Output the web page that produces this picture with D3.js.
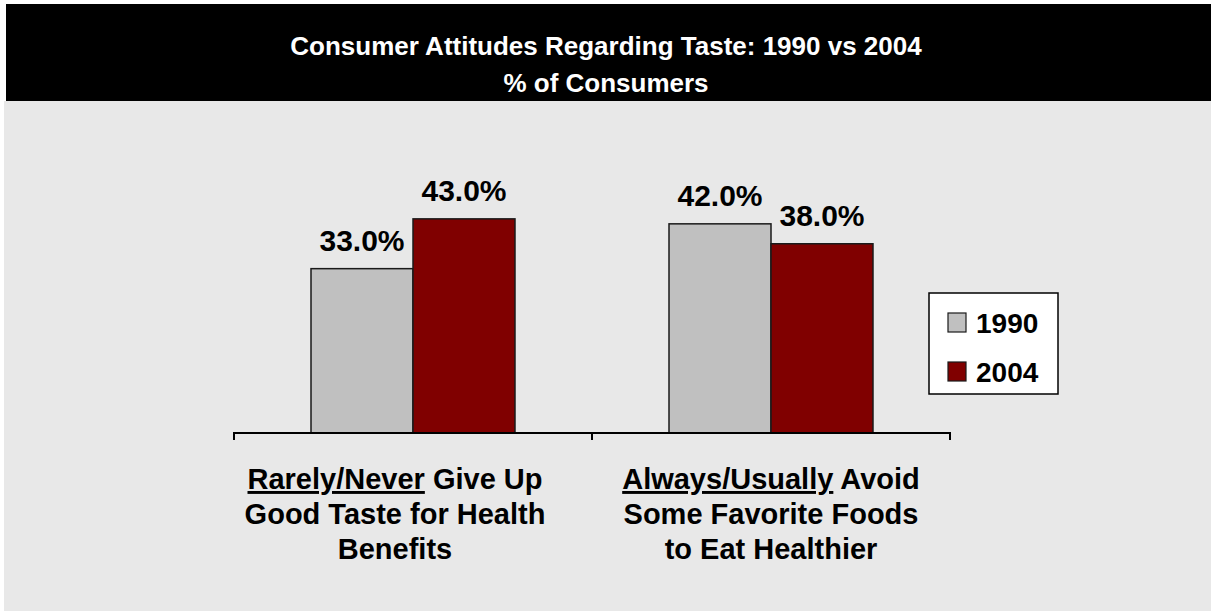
<!DOCTYPE html>
<html>
<head>
<meta charset="utf-8">
<script src="https://cdn.jsdelivr.net/npm/d3@7"></script>
<style>
  html, body { margin: 0; padding: 0; background: #ffffff; }
  svg { display: block; font-family: "Liberation Sans", Arial, sans-serif; font-weight: bold; }
</style>
</head>
<body>
<svg id="chart" width="1211" height="613"></svg>
<script>
// Chart data
const categories = ["taste", "avoid"];
const categoryLines = [
  [["Rarely/Never", " Give Up"], ["", "Good Taste for Health"], ["", "Benefits"]],
  [["Always/Usually", " Avoid"], ["", "Some Favorite Foods"], ["", "to Eat Healthier"]]
];
const seriesNames = ["1990", "2004"];
const values1990 = [33.0, 42.0];
const values2004 = [43.0, 38.0];
const seriesColors = ["#c0c0c0", "#800000"];
const titleLines = ["Consumer Attitudes Regarding Taste: 1990 vs 2004", "% of Consumers"];

const seriesValues = [values1990, values2004];
const rows = categories.map((c, i) => ({
  cat: c,
  bars: seriesNames.map((s, j) => ({ series: s, value: seriesValues[j][i], color: seriesColors[j] }))
}));

const svg = d3.select("#chart");
const W = 1211, H = 613;

// Panel background and title band
svg.append("rect").attr("x", 4).attr("y", 101).attr("width", W - 4).attr("height", 510).attr("fill", "#e8e8e8");
svg.append("rect").attr("x", 6).attr("y", 4).attr("width", W - 6).attr("height", 97).attr("fill", "#000000");

const title = svg.append("text")
  .attr("x", 606).attr("text-anchor", "middle")
  .attr("fill", "#ffffff").style("font-size", "26px");
title.selectAll("tspan").data(titleLines).join("tspan")
  .attr("x", 606).attr("y", (d, i) => 55 + i * 37).text(d => d);

// Scales
const plotLeft = 234, plotRight = 950, baseY = 433, topY = 184;
const x = d3.scaleBand().domain(categories).range([plotLeft, plotRight]).paddingInner(0).paddingOuter(0);
const xSub = d3.scaleBand().domain(seriesNames).range([0, x.bandwidth()]).paddingInner(0).paddingOuter(0.755);
const y = d3.scaleLinear().domain([0, 50]).range([baseY, topY]);

// Bars
const groups = svg.append("g").selectAll("g").data(rows).join("g")
  .attr("transform", d => `translate(${x(d.cat)},0)`);

groups.selectAll("rect").data(d => d.bars).join("rect")
  .attr("x", d => xSub(d.series))
  .attr("y", d => y(d.value))
  .attr("width", xSub.bandwidth())
  .attr("height", d => y(0) - y(d.value))
  .attr("fill", d => d.color)
  .attr("stroke", "#1a1a1a")
  .attr("stroke-width", 1.5);

groups.selectAll("text.val").data(d => d.bars).join("text")
  .attr("class", "val")
  .attr("x", d => xSub(d.series) + xSub.bandwidth() / 2)
  .attr("y", d => y(d.value) - 18)
  .attr("text-anchor", "middle")
  .attr("fill", "#000")
  .style("font-size", "30px")
  .text(d => d.value.toFixed(1) + "%");

// Category axis: baseline with tick marks at the category boundaries
const axisG = svg.append("g").attr("transform", `translate(0,${baseY})`);
axisG.append("line").attr("x1", plotLeft).attr("x2", plotRight).attr("y1", 0).attr("y2", 0)
  .attr("stroke", "#000").attr("stroke-width", 2);
const bounds = categories.map(c => x(c)).concat([plotRight]);
axisG.selectAll("line.b").data(bounds).join("line")
  .attr("class", "b")
  .attr("x1", d => d).attr("x2", d => d).attr("y1", -1).attr("y2", 7)
  .attr("stroke", "#000").attr("stroke-width", 2);

// Category labels (the first block sits slightly left of its group centre)
const labelShift = [-18, 0];
categories.forEach((c, i) => {
  const cx = x(c) + x.bandwidth() / 2 + labelShift[i];
  const t = svg.append("text").attr("text-anchor", "middle").attr("fill", "#000").style("font-size", "29px");
  categoryLines[i].forEach((parts, k) => {
    const line = t.append("tspan").attr("x", cx).attr("y", 489 + k * 35);
    if (parts[0]) line.append("tspan").style("text-decoration", "underline").text(parts[0]);
    line.append("tspan").text(parts[1]);
  });
});

// Legend
const legend = svg.append("g").attr("transform", "translate(929,293)");
legend.append("rect").attr("width", 129).attr("height", 101)
  .attr("fill", "#ffffff").attr("stroke", "#000").attr("stroke-width", 1.5);
const items = legend.selectAll("g").data(seriesNames).join("g")
  .attr("transform", (d, i) => `translate(0,${i * 49})`);
items.append("rect").attr("x", 19).attr("y", 20).attr("width", 18).attr("height", 19)
  .attr("fill", (d, i) => seriesColors[i]).attr("stroke", "#1a1a1a").attr("stroke-width", 1.2);
items.append("text").attr("x", 47).attr("y", 40).attr("fill", "#000")
  .style("font-size", "28px").text(d => d);
</script>
</body>
</html>
